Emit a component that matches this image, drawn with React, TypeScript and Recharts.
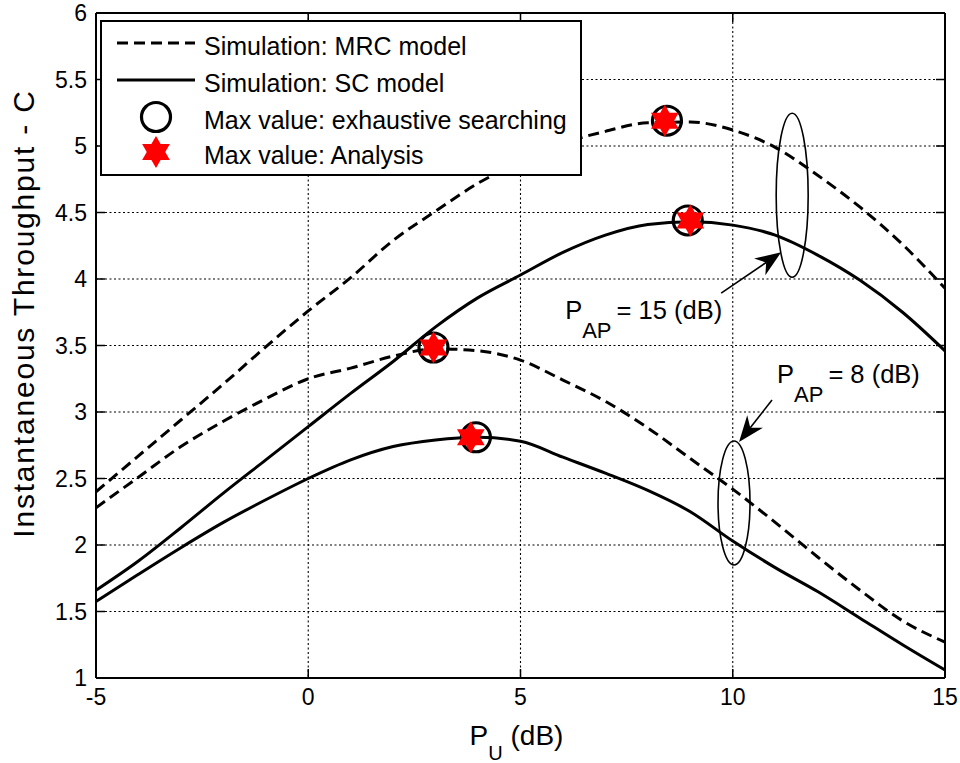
import React from 'react';
import { ComposedChart, Line, Scatter, XAxis, YAxis, CartesianGrid, ReferenceDot, Label } from 'recharts';

// ---------- data ----------
const xValues = [-5, -4, -3, -2, -1, 0, 1, 2, 3, 4, 5, 6, 7, 8, 9, 10, 11, 12, 13, 14, 15];
const mrc15 = [2.40, 2.67, 2.94, 3.21, 3.49, 3.76, 4.01, 4.29, 4.51, 4.72, 4.88, 5.02, 5.11, 5.175, 5.18, 5.12, 4.99, 4.78, 4.54, 4.26, 3.93];
const sc15 = [1.66, 1.88, 2.13, 2.39, 2.64, 2.89, 3.14, 3.38, 3.64, 3.86, 4.03, 4.2, 4.33, 4.41, 4.43, 4.405, 4.33, 4.18, 3.99, 3.75, 3.46];
const mrc8 = [2.28, 2.51, 2.74, 2.93, 3.10, 3.25, 3.33, 3.42, 3.475, 3.46, 3.39, 3.24, 3.08, 2.88, 2.65, 2.42, 2.17, 1.91, 1.66, 1.43, 1.27];
const sc8 = [1.575, 1.78, 1.98, 2.17, 2.34, 2.5, 2.64, 2.74, 2.79, 2.81, 2.78, 2.66, 2.54, 2.41, 2.25, 2.03, 1.83, 1.65, 1.45, 1.25, 1.06];

const circleX = [8.45, 8.94, 2.95, 3.95];
const circleY = [5.19, 4.44, 3.485, 2.81];
const starX = [8.4, 9.0, 2.95, 3.83];
const starY = [5.19, 4.44, 3.485, 2.81];

const xTicks = [-5, 0, 5, 10, 15];
const yTicks = [1, 1.5, 2, 2.5, 3, 3.5, 4, 4.5, 5, 5.5, 6];

const legendLabels = [
  'Simulation: MRC model',
  'Simulation: SC model',
  'Max value: exhaustive searching',
  'Max value: Analysis',
];

// annotation anchors (ellipse centres) in data units
const ellipse15 = { x: 11.4, y: 4.63 };
const ellipse8 = { x: 10.03, y: 2.316 };

// ---------- helpers ----------
const FONT = '"Liberation Sans", Arial, Helvetica, sans-serif';

const rows = xValues.map((x, i) => ({ x, mrc15: mrc15[i], sc15: sc15[i], mrc8: mrc8[i], sc8: sc8[i] }));
const circleData = circleX.map((x, i) => ({ x, y: circleY[i] }));
const starData = starX.map((x, i) => ({ x, y: starY[i] }));

function starPoints(cx: number, cy: number, R: number) {
  const r = R / Math.sqrt(3);
  const pts: string[] = [];
  for (let k = 0; k < 12; k++) {
    const ang = -Math.PI / 2 + (k * Math.PI) / 6;
    const rad = k % 2 === 0 ? R : r;
    pts.push(`${(cx + rad * Math.cos(ang)).toFixed(2)},${(cy + rad * Math.sin(ang)).toFixed(2)}`);
  }
  return pts.join(' ');
}

const Star = ({ cx, cy }: any) => <polygon points={starPoints(cx, cy, 16)} fill="#ff0000" stroke="none" />;
const Ring = ({ cx, cy }: any) => <circle cx={cx} cy={cy} r={14.5} fill="none" stroke="#000" strokeWidth={3.2} />;

function Arrow({ x1, y1, x2, y2 }: { x1: number; y1: number; x2: number; y2: number }) {
  const dx = x2 - x1;
  const dy = y2 - y1;
  const len = Math.sqrt(dx * dx + dy * dy);
  const ux = dx / len;
  const uy = dy / len;
  const px = -uy;
  const py = ux;
  const L = 26;
  const hw = 10;
  const bx = x2 - ux * L;
  const by = y2 - uy * L;
  const nx = x2 - ux * L * 0.7;
  const ny = y2 - uy * L * 0.7;
  const pts = `${x2},${y2} ${bx + px * hw},${by + py * hw} ${nx},${ny} ${bx - px * hw},${by - py * hw}`;
  return (
    <g>
      <line x1={x1} y1={y1} x2={nx} y2={ny} stroke="#000" strokeWidth={1.6} />
      <polygon points={pts} fill="#000" />
    </g>
  );
}

function PapText({ x, y, value }: { x: number; y: number; value: string }) {
  return (
    <text x={x} y={y} fontSize={25.5} fontFamily={FONT} fill="#000">
      <tspan>P</tspan>
      <tspan fontSize={22} dy={19}>AP</tspan>
      <tspan dy={-19} dx={5}>{`= ${value} (dB)`}</tspan>
    </text>
  );
}

const Annot15 = ({ cx, cy }: any) => (
  <g>
    <ellipse cx={cx} cy={cy} rx={16} ry={82} fill="none" stroke="#000" strokeWidth={1.6} />
    <Arrow x1={cx - 71} y1={cy + 98} x2={cx - 11} y2={cy + 57} />
    <PapText x={cx - 227} y={cy + 124} value="15" />
  </g>
);

const Annot8 = ({ cx, cy }: any) => (
  <g>
    <ellipse cx={cx} cy={cy} rx={16} ry={62} fill="none" stroke="#000" strokeWidth={1.6} />
    <Arrow x1={cx + 38} y1={cy - 103} x2={cx + 5} y2={cy - 61} />
    <PapText x={cx + 43} y={cy - 120} value="8" />
  </g>
);

const TICK = 9;

const LeftTick = ({ x, y, payload }: any) => (
  <g>
    <line x1={x} y1={y} x2={x + TICK} y2={y} stroke="#000" strokeWidth={1.5} />
    <text x={x - 9} y={y + 8} textAnchor="end" fontSize={23} fontFamily={FONT} fill="#000">
      {String(payload.value)}
    </text>
  </g>
);
const RightTick = ({ x, y }: any) => (
  <line x1={x} y1={y} x2={x - TICK} y2={y} stroke="#000" strokeWidth={1.5} />
);
const BottomTick = ({ x, y, payload }: any) => (
  <g>
    <line x1={x} y1={y} x2={x} y2={y - TICK} stroke="#000" strokeWidth={1.5} />
    <text x={x} y={y + 27} textAnchor="middle" fontSize={23} fontFamily={FONT} fill="#000">
      {String(payload.value)}
    </text>
  </g>
);
const TopTick = ({ x, y }: any) => (
  <line x1={x} y1={y} x2={x} y2={y + TICK} stroke="#000" strokeWidth={1.5} />
);

const XLabel = ({ viewBox }: any) => {
  const cx = viewBox.x + viewBox.width / 2 - 4;
  const by = viewBox.y + 67;
  return (
    <text x={cx} y={by} textAnchor="middle" fontSize={28} fontFamily={FONT} fill="#000">
      <tspan>P</tspan>
      <tspan fontSize={20} dy={15}>U</tspan>
      <tspan dy={-15}>{' (dB)'}</tspan>
    </text>
  );
};

const YLabel = ({ viewBox }: any) => {
  const cx = viewBox.x - 13;
  const cy = viewBox.y + viewBox.height / 2 - 32;
  return (
    <text
      x={cx}
      y={cy}
      dy="0.36em"
      transform={`rotate(-90 ${cx} ${cy})`}
      textAnchor="middle"
      fontSize={30}
      letterSpacing={1.8}
      fontFamily={FONT}
      fill="#000"
    >
      Instantaneous Throughput - C
    </text>
  );
};

function LegendBox() {
  const rowY = [23, 60, 97, 132];
  return (
    <svg
      width={484}
      height={158}
      style={{ position: 'absolute', left: 100, top: 20 }}
    >
      <rect x={1} y={1} width={480} height={154} fill="#fff" stroke="#000" strokeWidth={2} />
      <line x1={17} y1={rowY[0]} x2={95} y2={rowY[0]} stroke="#000" strokeWidth={3} strokeDasharray="11 6" />
      <line x1={17} y1={rowY[1]} x2={95} y2={rowY[1]} stroke="#000" strokeWidth={3} />
      <Ring cx={56} cy={rowY[2]} />
      <Star cx={56} cy={rowY[3]} />
      {legendLabels.map((t, i) => (
        <text key={t} x={104} y={rowY[i] + 12} fontSize={25} fontFamily={FONT} fill="#000">
          {t}
        </text>
      ))}
    </svg>
  );
}

export default function App() {
  return (
    <div style={{ position: 'absolute', left: 0, top: 0, width: 960, height: 763, background: '#fff' }}>
      <ComposedChart
        width={960}
        height={763}
        data={rows}
        margin={{ top: 8, right: 10, bottom: 25, left: 36 }}
      >
        <CartesianGrid stroke="#000" strokeWidth={1.1} strokeDasharray="2 2.5" />
        <XAxis
          dataKey="x"
          type="number"
          domain={[-5, 15]}
          ticks={xTicks}
          allowDataOverflow
          height={60}
          tickSize={0}
          tickMargin={0}
          tickLine={false}
          axisLine={{ stroke: '#000', strokeWidth: 2 }}
          tick={<BottomTick />}
          interval={0}
        >
          <Label content={<XLabel />} />
        </XAxis>
        <XAxis
          xAxisId="top"
          orientation="top"
          dataKey="x"
          type="number"
          domain={[-5, 15]}
          ticks={xTicks}
          allowDataOverflow
          height={5}
          tickSize={0}
          tickMargin={0}
          tickLine={false}
          axisLine={{ stroke: '#000', strokeWidth: 2 }}
          tick={<TopTick />}
          interval={0}
        />
        <YAxis
          type="number"
          domain={[1, 6]}
          ticks={yTicks}
          allowDataOverflow
          width={60}
          tickSize={0}
          tickMargin={0}
          tickLine={false}
          axisLine={{ stroke: '#000', strokeWidth: 2 }}
          tick={<LeftTick />}
          interval={0}
        >
          <Label content={<YLabel />} />
        </YAxis>
        <YAxis
          yAxisId="right"
          orientation="right"
          type="number"
          domain={[1, 6]}
          ticks={yTicks}
          allowDataOverflow
          width={5}
          tickSize={0}
          tickMargin={0}
          tickLine={false}
          axisLine={{ stroke: '#000', strokeWidth: 2 }}
          tick={<RightTick />}
          interval={0}
        />
        <Line dataKey="mrc15" type="monotone" stroke="#000" strokeWidth={3} strokeDasharray="11 6" dot={false} activeDot={false} isAnimationActive={false} />
        <Line dataKey="sc15" type="monotone" stroke="#000" strokeWidth={3} dot={false} activeDot={false} isAnimationActive={false} />
        <Line dataKey="mrc8" type="monotone" stroke="#000" strokeWidth={3} strokeDasharray="11 6" dot={false} activeDot={false} isAnimationActive={false} />
        <Line dataKey="sc8" type="monotone" stroke="#000" strokeWidth={3} dot={false} activeDot={false} isAnimationActive={false} />
        <Scatter data={circleData} dataKey="y" shape={<Ring />} isAnimationActive={false} />
        <Scatter data={starData} dataKey="y" shape={<Star />} isAnimationActive={false} />
        <ReferenceDot x={ellipse15.x} y={ellipse15.y} r={0} ifOverflow="visible" shape={<Annot15 />} />
        <ReferenceDot x={ellipse8.x} y={ellipse8.y} r={0} ifOverflow="visible" shape={<Annot8 />} />
      </ComposedChart>
      <LegendBox />
    </div>
  );
}
